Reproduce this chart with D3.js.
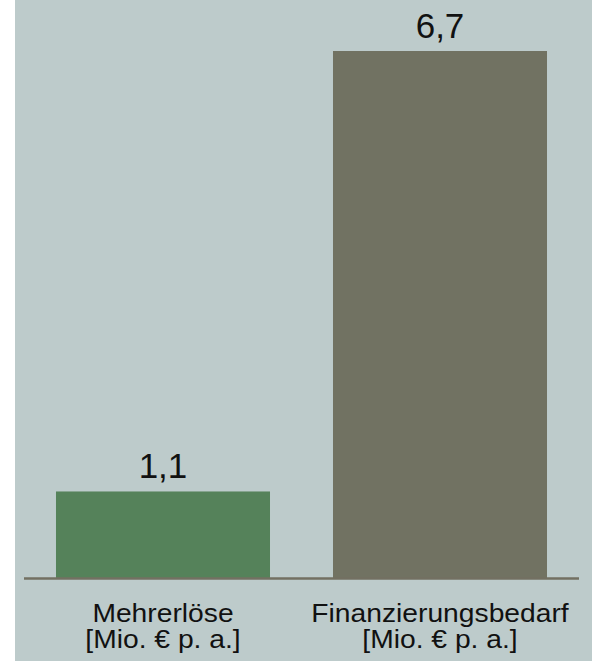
<!DOCTYPE html>
<html>
<head>
<meta charset="utf-8">
<script src="https://cdn.jsdelivr.net/npm/d3@7"></script>
<style>
  body { margin: 0; background: #fff; }
  text { font-family: "Liberation Sans", Arial, sans-serif; fill: #111; }
</style>
</head>
<body>
<div id="chart"></div>
<script>
const categories = ["Mehrerlöse", "Finanzierungsbedarf"];
const unitLabel = "[Mio. € p. a.]";
const values = [1.1, 6.7];
const valueLabels = ["1,1", "6,7"];
const barColors = ["#55825a", "#717262"];

const width = 603;
const height = 661;
const axisY = 578;

const svg = d3.select("#chart").append("svg")
    .attr("width", width)
    .attr("height", height);

svg.append("rect")
    .attr("x", 15).attr("y", 0)
    .attr("width", 577).attr("height", height)
    .attr("fill", "#bdcbcb");

const x = d3.scaleBand()
    .domain(categories)
    .range([24, 579])
    .paddingInner(0.2274)
    .paddingOuter(0.1155);

const y = d3.scaleLinear()
    .domain([0, 6.7])
    .range([axisY, 51]);

svg.append("g")
  .selectAll("rect")
  .data(values)
  .join("rect")
    .attr("x", (d, i) => x(categories[i]))
    .attr("y", d => y(d))
    .attr("width", x.bandwidth())
    .attr("height", d => y(0) - y(d))
    .attr("fill", (d, i) => barColors[i]);

// value labels
svg.append("g")
  .selectAll("text")
  .data(values)
  .join("text")
    .attr("x", (d, i) => x(categories[i]) + x.bandwidth() / 2)
    .attr("y", d => y(d) - 13)
    .attr("text-anchor", "middle")
    .attr("font-size", 35)
    .text((d, i) => valueLabels[i]);

// baseline
svg.append("line")
    .attr("x1", 24).attr("x2", 579)
    .attr("y1", axisY + 0.5).attr("y2", axisY + 0.5)
    .attr("stroke", "#737062")
    .attr("stroke-width", 2.5);

// category labels, two lines each
const cat = svg.append("g")
  .selectAll("text")
  .data(categories)
  .join("text")
    .attr("text-anchor", "middle")
    .attr("font-size", 25)
    .attr("transform", d => `translate(${x(d) + x.bandwidth() / 2},0) scale(1.13,1)`);

cat.append("tspan")
    .attr("x", 0).attr("y", 622)
    .text(d => d);
cat.append("tspan")
    .attr("x", 0).attr("y", 648)
    .text(unitLabel);
</script>
</body>
</html>
